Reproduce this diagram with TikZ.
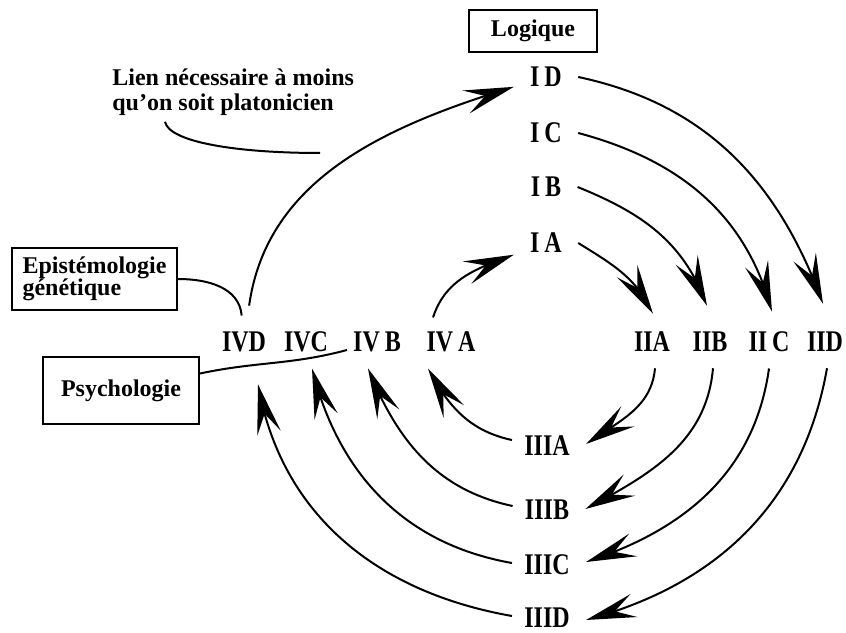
\documentclass[tikz,border=0pt]{standalone}
\usepackage{fontspec}
\setmainfont{Liberation Serif}
\newfontfamily\numfont[FakeStretch=0.8]{Liberation Serif}
\usetikzlibrary{positioning, arrows.meta, bending, calc}
\tikzset{
  numeral/.style={font=\numfont\fontsize{15}{16}\selectfont\bfseries, inner sep=8pt},
  boxed/.style={draw, line width=1pt, font=\fontsize{12}{11}\selectfont\bfseries, inner sep=3pt},
  arc/.style={line width=1pt, -{Stealth[length=25pt,width=12pt,inset=10pt]}},
  link/.style={line width=1pt},
}

\begin{document}
\begin{tikzpicture}[x=0.5pt, y=0.5pt]
    \useasboundingbox (0,0) rectangle (846,632);

    % boxes and remark
    \node[boxed, minimum width=64pt, minimum height=21pt] (logique) at (533,601) {Logique};
    \node[boxed, minimum width=82.5pt, minimum height=31pt, align=left, inner xsep=5pt] (epist) at (94.5,353) {Epist\'emologie\\g\'en\'etique};
    \node[boxed, minimum width=78pt, minimum height=33.5pt] (psych) at (121,241.5) {Psychologie};
    \node[font=\fontsize{12}{12.5}\selectfont\bfseries, align=left, anchor=west, inner sep=0pt] (lien) at (112,540) {Lien n\'ecessaire \`a moins\\qu'on soit platonicien};

    % the four stages
    \node[numeral] (ID) at (546,555) {I\,D};
    \node[numeral] (IC) at (546,499) {I\,C};
    \node[numeral] (IB) at (546,445) {I\,B};
    \node[numeral] (IA) at (546,389) {I\,A};

    \node[numeral] (IIA) at (652,290) {IIA};
    \node[numeral] (IIB) at (710,290) {IIB};
    \node[numeral] (IIC) at (769,290) {II\,C};
    \node[numeral] (IID) at (825,290) {IID};

    \node[numeral] (IIIA) at (547,186) {IIIA};
    \node[numeral] (IIIB) at (547,122) {IIIB};
    \node[numeral] (IIIC) at (547,67) {IIIC};
    \node[numeral] (IIID) at (547,14) {IIID};

    \node[numeral] (IVA) at (451,290) {IV\,A};
    \node[numeral] (IVB) at (377,290) {IV\,B};
    \node[numeral] (IVC) at (306,290) {IVC};
    \node[numeral] (IVD) at (244,290) {IVD};

    \coordinate (lienend) at (320,479);
    \coordinate (psyend) at (347,282);

    % I -> II
    \draw[arc] (ID.east) to[out=-12, in=110] ($(IID.north)+(-2,12)$);
    \draw[arc] (IC.east) to[out=-15, in=105] ($(IIC.north)+(3,4)$);
    \draw[arc] (IB.east) to[out=-22, in=110] ($(IIB.north)+(-3,10)$);
    \draw[arc] (IA.east) to[out=-32, in=115] ($(IIA.north)+(1,2)$);

    % II -> III
    \draw[arc] ($(IIA.south)+(3,0)$) to[out=-95, in=35] ($(IIIA.east)+(0,2)$);
    \draw[arc] ($(IIB.south)+(3,0)$) to[out=-95, in=28] ($(IIIB.east)+(0,1)$);
    \draw[arc] (IIC.south) to[out=-98, in=18] ($(IIIC.east)+(0,3)$);
    \draw[arc] ($(IID.south)+(2,0)$) to[out=-100, in=15] ($(IIID.east)+(0,-2)$);

    % III -> IV
    \draw[arc] ($(IIIA.west)+(4,6)$) to[out=168, in=-62] ($(IVA.south)+(-23,0)$);
    \draw[arc] ($(IIIB.west)+(4,4)$) to[out=168, in=-68] ($(IVB.south)+(-9,0)$);
    \draw[arc] ($(IIIC.west)+(4,2)$) to[out=170, in=-76] ($(IVC.south)+(6,0)$);
    \draw[arc] ($(IIID.west)+(4,2)$) to[out=170, in=-80] ($(IVD.south)+(14,-16)$);

    % IV -> I
    \draw[arc] ($(IVA.north)+(-18,-2)$) to[out=72, in=200] (IA);
    \draw[arc, shorten <=5pt] (IVD) to[out=82, in=197] (ID);

    % remarks
    \draw[link] ($(lien.south west)+(53,-6)$) .. controls +(4,-20) and +(-85,0) .. (lienend);
    \draw[link] (epist.east) to[out=0, in=95] (IVD);
    \draw[link] ($(psych.east)+(0,17)$) to[out=12, in=195] (psyend);
\end{tikzpicture}
\end{document}
